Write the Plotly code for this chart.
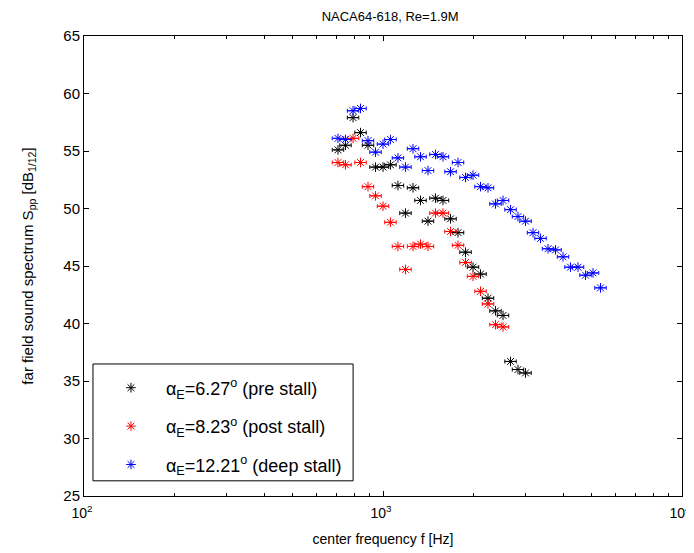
import plotly.graph_objects as go

# 1/12-octave centre frequencies [Hz]
freq = [707, 749, 794, 841, 891, 944, 1000, 1059, 1122, 1189, 1260, 1335, 1414,
        1498, 1587, 1682, 1782, 1888, 2000, 2119, 2245, 2378, 2520, 2670, 2828,
        2997, 3175, 3364, 3564, 3776, 4000, 4238, 4490, 4757, 5040, 5339]

pre_f = freq[:26]
pre_spl = [55.1, 55.5, 57.9, 56.6, 55.5, 53.6, 53.6, 53.8, 52.0, 49.6, 51.8, 50.7,
           48.9, 50.9, 50.7, 49.1, 47.9, 46.2, 44.9, 44.3, 42.2, 41.1, 40.7, 36.7,
           36.0, 35.7]

post_f = freq[:23]
post_spl = [54.0, 53.8, 56.1, 54.0, 51.9, 51.1, 50.2, 48.8, 46.7, 44.7, 46.7, 46.9,
            46.7, 49.6, 49.6, 48.0, 46.8, 45.3, 44.1, 42.8, 41.7, 39.9, 39.7]

deep_f = freq[:36]
deep_spl = [56.1, 56.0, 58.5, 58.7, 55.9, 54.9, 55.6, 56.0, 54.4, 53.6, 55.2, 54.5,
            53.3, 54.7, 54.5, 53.2, 54.0, 52.7, 52.9, 51.9, 51.8, 50.4, 50.7, 49.9,
            49.3, 48.9, 47.9, 47.4, 46.5, 46.4, 45.8, 44.9, 44.9, 44.2, 44.4, 43.1]

series_names = ["α<sub>E</sub>=6.27<sup>o</sup> (pre stall)",
                "α<sub>E</sub>=8.23<sup>o</sup> (post stall)",
                "α<sub>E</sub>=12.21<sup>o</sup> (deep stall)"]
series_colors = ["#000000", "#FF0000", "#0000FF"]

x_ticks = [100, 1000, 10000]
x_ticktext = ["10<sup>2</sup>", "10<sup>3</sup>", "10<sup>4</sup>"]
y_ticks = [25, 30, 35, 40, 45, 50, 55, 60, 65]

BAND = 0.045  # horizontal bar half-width as fraction of frequency

fig = go.Figure()
for i, (fx, sy) in enumerate([(pre_f, pre_spl), (post_f, post_spl), (deep_f, deep_spl)]):
    c = series_colors[i]
    fig.add_trace(go.Scatter(
        x=fx, y=sy, mode="markers", name=series_names[i],
        legendgroup=f"g{i}",
        marker=dict(symbol="asterisk-open", size=8, color=c,
                    line=dict(color=c, width=1)),
        error_x=dict(type="data", symmetric=False,
                     array=[f * BAND for f in fx],
                     arrayminus=[f * BAND / (1 + BAND) for f in fx],
                     color=c, thickness=1, width=2),
    ))

axis_common = dict(showline=True, linecolor="black", linewidth=1, mirror="allticks",
                   ticks="inside", tickcolor="black", ticklen=5, showgrid=False,
                   zeroline=False, automargin=False,
                   tickfont=dict(size=15, color="black"))

# legend frame (drawn as a shape so that its size matches the reference)
fig.add_shape(type="rect", xref="paper", yref="paper",
              x0=0.015, x1=0.450, y0=0.033, y1=0.287,
              line=dict(color="black", width=1), fillcolor="white", layer="above")

# page body has an 8px default margin, so the figure is sized to fit the window
fig.update_layout(
    width=686, height=545,
    paper_bgcolor="white", plot_bgcolor="white",
    margin=dict(l=76, r=12, t=28, b=57),
    font=dict(family="Liberation Sans, Arial, sans-serif", color="black", size=14),
    title=dict(text="NACA64-618, Re=1.9M", x=0.557, xanchor="center", y=0.993,
               yanchor="top", pad=dict(t=0), font=dict(size=13)),
    xaxis=dict(type="log", range=[2, 4], tickvals=x_ticks, ticktext=x_ticktext,
               ticklabelstandoff=4, ticklabelshift=-2,
               title=dict(text="center frequency f [Hz]", standoff=14, font=dict(size=14)),
               minor=dict(ticks="inside", ticklen=3, tickcolor="black",
                          tickvals=[200, 300, 400, 500, 600, 700, 800, 900,
                                    2000, 3000, 4000, 5000, 6000, 7000, 8000, 9000]),
               **{**axis_common, "tickfont": dict(size=14, color="black")}),
    yaxis=dict(range=[25, 65], tickvals=y_ticks,
               title=dict(text="far field sound spectrum S<sub>pp</sub> [dB<sub>1/12</sub>]",
                          standoff=26, font=dict(size=15)),
               **axis_common),
    legend=dict(x=0.02, y=0.275, xanchor="left", yanchor="top",
                borderwidth=0, bgcolor="rgba(0,0,0,0)",
                font=dict(size=18), tracegroupgap=12, itemwidth=60),
    showlegend=True,
)

fig.write_html("out.html")
